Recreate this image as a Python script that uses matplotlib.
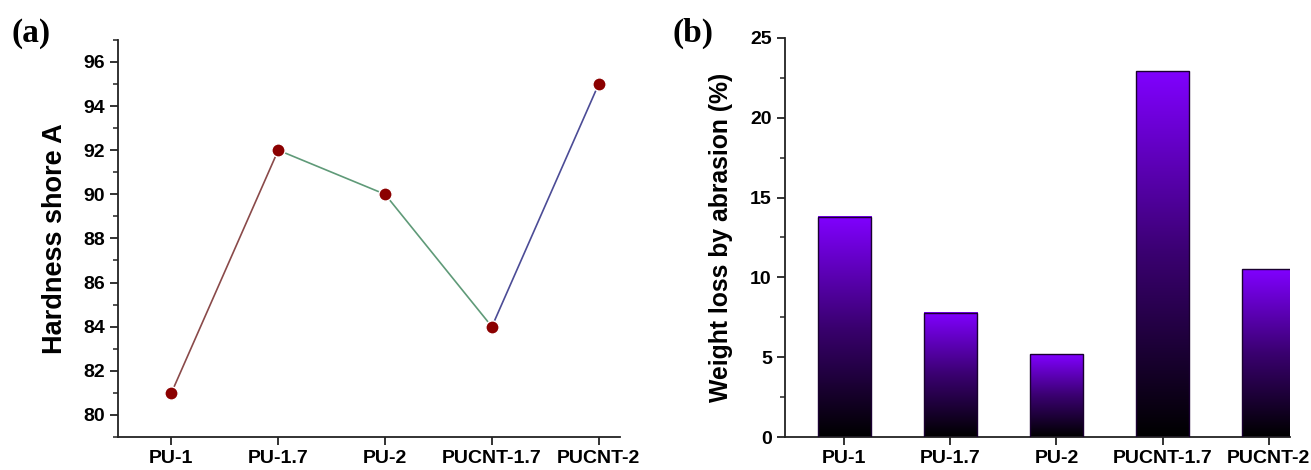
import numpy as np
import matplotlib
matplotlib.use("Agg")
import matplotlib.pyplot as plt
from matplotlib.colors import LinearSegmentedColormap
from matplotlib.ticker import MultipleLocator

samples = ["PU-1", "PU-1.7", "PU-2", "PUCNT-1.7", "PUCNT-2"]
hardness = [81, 92, 90, 84, 95]
weight_loss = [13.8, 7.8, 5.2, 22.9, 10.5]
segment_colors = ["#8a4a4a", "#5f9a78", "#5f9a78", "#4c4c96"]

fig = plt.figure(figsize=(13.11, 4.70), dpi=100)
ax1 = fig.add_axes([0.090, 0.0702, 0.383, 0.845])
ax2 = fig.add_axes([0.5988, 0.0702, 0.385, 0.849])


def style_axes(ax):
    for s in ("top", "right"):
        ax.spines[s].set_visible(False)
    for s in ("left", "bottom"):
        ax.spines[s].set_linewidth(1.3)
        ax.spines[s].set_color("#222222")
    ax.tick_params(axis="both", which="major", direction="out", length=6, width=1.3,
                   colors="#222222", labelcolor="black")
    ax.tick_params(axis="y", which="minor", direction="out", length=3.5, width=1.1,
                   colors="#222222")
    ax.tick_params(axis="x", which="minor", bottom=False)
    for lab in ax.get_xticklabels() + ax.get_yticklabels():
        lab.set_fontfamily("Liberation Sans")
        lab.set_fontweight("bold")
        lab.set_fontsize(14)


# (a) hardness: connecting segments in different colours, dark red markers
x = np.arange(len(samples))
for i, c in enumerate(segment_colors):
    ax1.plot(x[i:i + 2], hardness[i:i + 2], color=c, lw=1.2, zorder=2)
ax1.plot(x, hardness, "o", ms=9.5, mfc="#8b0000", mec="white", mew=1.0, ls="none", zorder=3)
ax1.set_xlim(-0.5, 4.2)
ax1.set_ylim(79, 97)
ax1.set_xticks(x)
ax1.set_xticklabels(samples)
ax1.yaxis.set_minor_locator(MultipleLocator(1))
ax1.set_yticks(range(80, 97, 2))
ax1.set_ylabel("Hardness shore A", fontsize=19.5, fontweight="bold",
               fontfamily="Liberation Sans", labelpad=11)
style_axes(ax1)

# (b) weight loss, each bar filled with a black-to-violet vertical gradient
cmap = LinearSegmentedColormap.from_list("violet", ["#000000", "#3a0070", "#8000ff"])
grad = np.linspace(0, 1, 256).reshape(-1, 1)
width = 0.5
ax2.bar(x, weight_loss, width=width, color="none", edgecolor="#1a0030", lw=1.0, zorder=3)
for xi, h in zip(x, weight_loss):
    ax2.imshow(grad, cmap=cmap, origin="lower", aspect="auto",
               extent=[xi - width / 2, xi + width / 2, 0, h], zorder=2)
ax2.set_xlim(-0.56, 4.2)
ax2.set_ylim(0, 25)
ax2.set_xticks(x)
ax2.set_xticklabels(samples)
ax2.yaxis.set_major_locator(MultipleLocator(5))
ax2.yaxis.set_minor_locator(MultipleLocator(2.5))
ax2.set_ylabel("Weight loss by abrasion (%)", fontsize=17.8, fontweight="bold",
               fontfamily="Liberation Sans", labelpad=12)
style_axes(ax2)

fig.text(0.009, 0.962, "(a)", fontsize=24, fontweight="bold", fontfamily="Liberation Serif",
         va="top", ha="left")
fig.text(0.513, 0.962, "(b)", fontsize=24, fontweight="bold", fontfamily="Liberation Serif",
         va="top", ha="left")

fig.savefig("out.png", dpi=100, facecolor="white")
